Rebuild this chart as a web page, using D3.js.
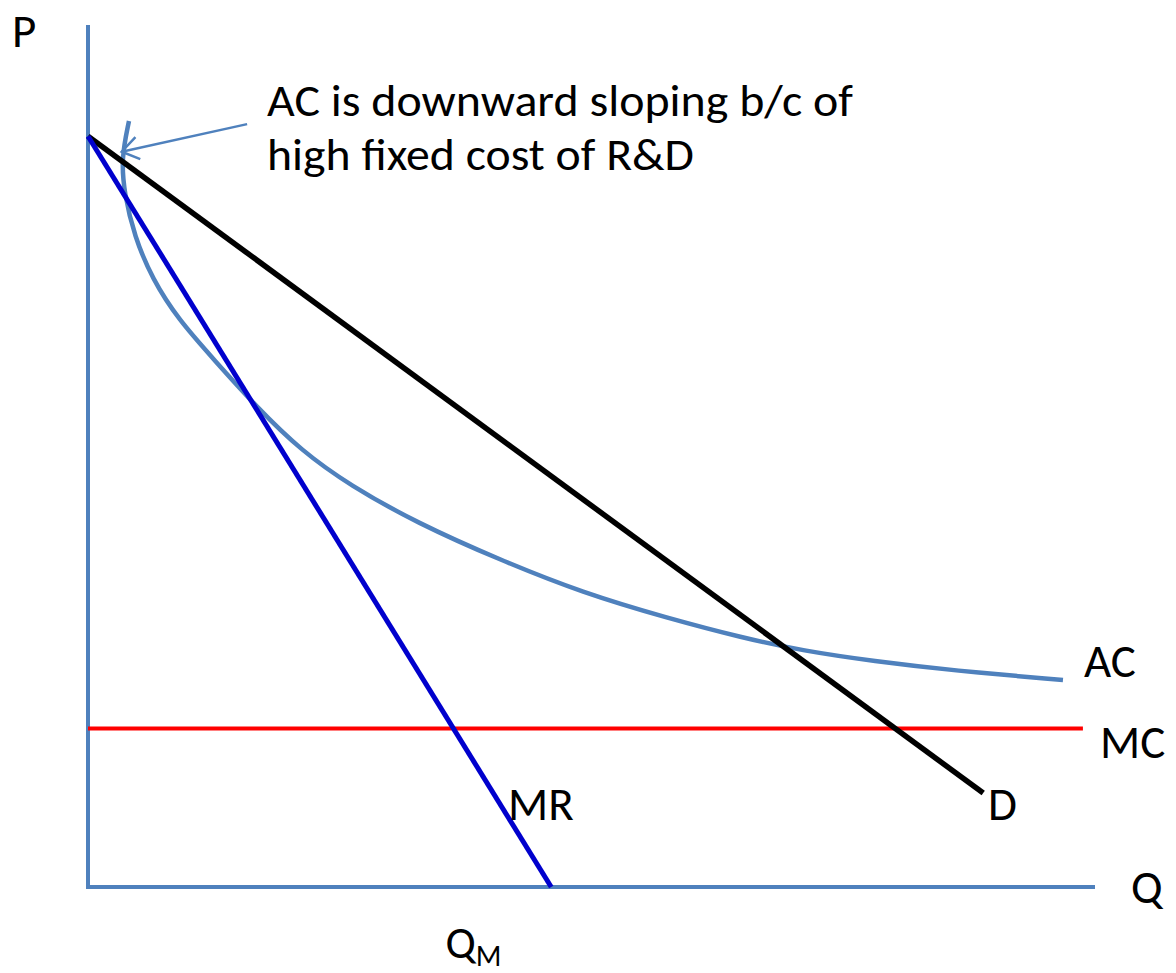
<!DOCTYPE html>
<html>
<head>
<meta charset="utf-8">
<script src="https://cdn.jsdelivr.net/npm/d3@7"></script>
<style>
  html, body { margin: 0; padding: 0; background: #fff; }
  svg { display: block; }
  text { font-family: Carlito, Calibri, Lato, "Open Sans", sans-serif; fill: #000; }
</style>
</head>
<body>
<svg id="chart" width="1176" height="973"></svg>
<script>
// ---- data (economic units, 0..100 on both axes) ----
const demandPts = [[0, 87.1], [88.9, 10.9]];
const mrPts = [[0, 87.1], [46.0, 0]];
const mcLevel = 18.4;
const mcRange = [0, 98.8];
const acPts = [
  [4.07, 88.86], [3.3, 84.5], [3.6, 80.5], [4.6, 75.5], [6.4, 70.5],
  [9.0, 65.8], [12.5, 61.2], [16.8, 55.6], [21.2, 50.6], [26.0, 46.6],
  [32.67, 42.23], [40.91, 37.94], [49.16, 34.11], [57.5, 31.21], [65.04, 28.89],
  [71.0, 27.4], [78.0, 26.2], [86.0, 25.1], [96.82, 24.01]
];
const arrowFrom = [15.8, 88.5];
const arrowTo = [3.35, 85.3];
const qM = 35.5;
const annotation = ["AC is downward sloping b/c of", "high fixed cost of R&D"];
const annotationWidths = [586, 427];

const svg = d3.select("#chart");
const x = d3.scaleLinear().domain([0, 100]).range([88, 1095]);
const y = d3.scaleLinear().domain([0, 100]).range([887, 25]);
const lin = () => d3.line().x(d => x(d[0])).y(d => y(d[1]));

const axisColor = "#4F81BD";

// axes
svg.append("line").attr("x1", x(0)).attr("x2", x(0)).attr("y1", y(100)).attr("y2", y(0))
  .attr("stroke", axisColor).attr("stroke-width", 4);
svg.append("line").attr("x1", x(0) - 2).attr("x2", x(100)).attr("y1", y(0)).attr("y2", y(0))
  .attr("stroke", axisColor).attr("stroke-width", 4);

// MC
svg.append("line").attr("x1", x(mcRange[0])).attr("x2", x(mcRange[1]))
  .attr("y1", y(mcLevel)).attr("y2", y(mcLevel))
  .attr("stroke", "#FF0000").attr("stroke-width", 4);

// AC
svg.append("path").datum(acPts)
  .attr("d", lin().curve(d3.curveBasis))
  .attr("fill", "none").attr("stroke", axisColor).attr("stroke-width", 4.5);

// D
svg.append("path").datum(demandPts).attr("d", lin())
  .attr("fill", "none").attr("stroke", "#000").attr("stroke-width", 5.5);

// MR
svg.append("path").datum(mrPts).attr("d", lin())
  .attr("fill", "none").attr("stroke", "#0000CD").attr("stroke-width", 5);

// arrow
const ax0 = x(arrowFrom[0]), ay0 = y(arrowFrom[1]), ax1 = x(arrowTo[0]), ay1 = y(arrowTo[1]);
svg.append("line").attr("x1", ax0).attr("y1", ay0).attr("x2", ax1).attr("y2", ay1)
  .attr("stroke", axisColor).attr("stroke-width", 2.5);
const ang = Math.atan2(ay0 - ay1, ax0 - ax1);
const hl = 20, spread = 0.6;
const head = [
  [ax1 + hl * Math.cos(ang - spread), ay1 + hl * Math.sin(ang - spread)],
  [ax1, ay1],
  [ax1 + hl * Math.cos(ang + spread), ay1 + hl * Math.sin(ang + spread)]
];
svg.append("path").attr("d", d3.line()(head)).attr("fill", "none")
  .attr("stroke", axisColor).attr("stroke-width", 2.5);

// annotation text
annotation.forEach((t, i) => {
  svg.append("text").attr("x", 267).attr("y", 116 + i * 54).attr("font-size", 45)
    .attr("textLength", annotationWidths[i]).attr("lengthAdjust", "spacingAndGlyphs")
    .text(t);
});

// labels
const labels = [
  { t: "P", x: 12, y: 47 },
  { t: "Q", x: 1131, y: 903 },
  { t: "AC", x: 1084, y: 677 },
  { t: "MC", x: 1100, y: 758 },
  { t: "D", x: 988, y: 820 },
  { t: "MR", x: 508, y: 820 }
];
labels.forEach(l => {
  svg.append("text").attr("x", l.x).attr("y", l.y).attr("font-size", 47).text(l.t);
});

// Q_M
const qm = svg.append("text").attr("x", x(qM)).attr("y", 958).attr("font-size", 45);
qm.append("tspan").text("Q");
qm.append("tspan").attr("font-size", 30).attr("dy", 8).text("M");
</script>
</body>
</html>
